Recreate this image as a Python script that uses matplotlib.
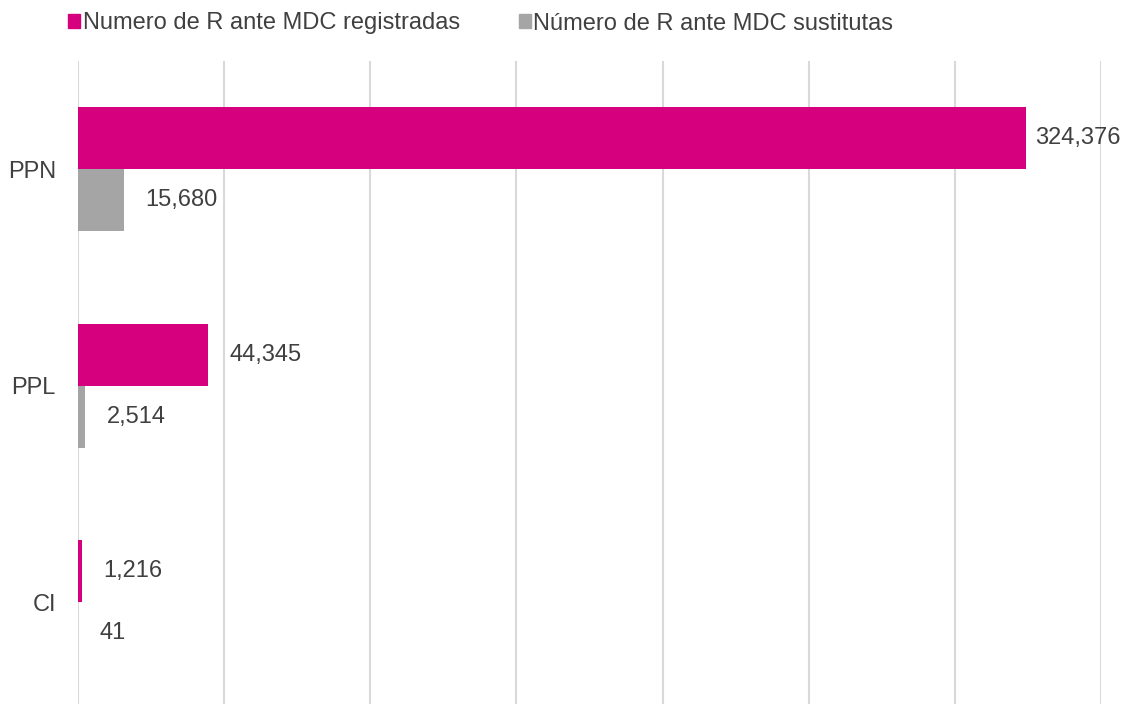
import matplotlib.pyplot as plt
import matplotlib.patches as patches
import numpy as np

plt.rcParams['font.family'] = ['Liberation Sans', 'DejaVu Sans']

categories = ["PPN", "PPL", "CI"]
registradas = [324376, 44345, 1216]
sustitutas = [15680, 2514, 41]
series_names = ["Numero de R ante MDC registradas", "Número de R ante MDC sustitutas"]

pink = "#D6007F"
gray = "#A5A5A5"
text_col = "#404040"

fig = plt.figure(figsize=(11.23, 7.04), dpi=100)
# plot area runs a little past the bottom edge, as in the original
ax = fig.add_axes([78 / 1123, -6.5 / 704, (1101 - 78) / 1123, 649.5 / 704])

y = np.arange(len(categories))
h = 0.286
b1 = ax.barh(y - h / 2, registradas, height=h, color=pink)
b2 = ax.barh(y + h / 2, sustitutas, height=h, color=gray)

vmax = max(registradas)
for bars, vals in ((b1, registradas), (b2, sustitutas)):
    for bar, v in zip(bars, vals):
        pad = 6.5 if v == vmax else 15.5
        ax.annotate(f"{v:,}", (v, bar.get_y() + bar.get_height() / 2),
                    xytext=(pad, 0), textcoords="offset points",
                    va="center", ha="left", fontsize=17, color=text_col)

ax.set_xlim(0, 350000)
ax.set_ylim(2.5, -0.5)
ax.set_xticks(np.arange(0, 350001, 50000))
ax.tick_params(axis="x", length=0, labelbottom=False)
ax.tick_params(axis="y", length=0, labelsize=17, labelcolor=text_col, pad=16)
ax.set_yticks(y)
ax.set_yticklabels(categories)
ax.grid(axis="x", color="#D9D9D9", linewidth=1.5)
ax.set_axisbelow(True)
for s in ax.spines.values():
    s.set_visible(False)

handles = [patches.Patch(color=pink), patches.Patch(color=gray)]
fig.legend(handles, series_names, loc="center left", bbox_to_anchor=(68 / 1123, 1 - 23.5 / 704),
           ncol=2, frameon=False, fontsize=17, labelcolor=text_col, borderpad=0, borderaxespad=0,
           handlelength=0.5, handleheight=0.5, handletextpad=0.12, columnspacing=2.5)

fig.savefig("out.png", dpi=100)
